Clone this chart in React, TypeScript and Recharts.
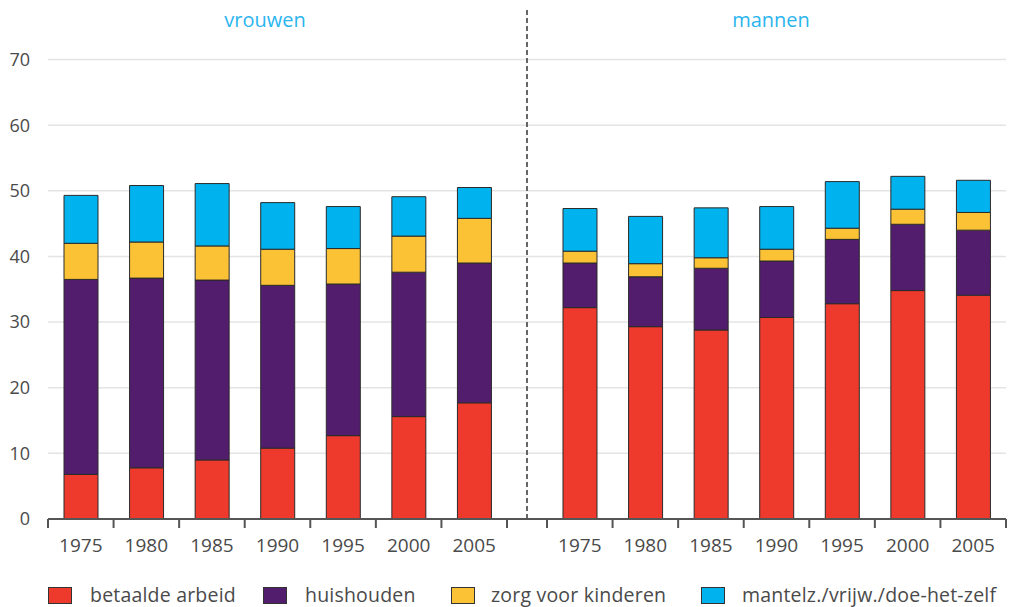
import React from 'react';
import { BarChart, Bar, XAxis, YAxis, CartesianGrid, ReferenceLine } from 'recharts';

const years = ['1975', '1980', '1985', '1990', '1995', '2000', '2005'];
const groupTitles = ['vrouwen', 'mannen'];
const seriesNames = ['betaalde arbeid', 'huishouden', 'zorg voor kinderen', 'mantelz./vrijw./doe-het-zelf'];

const vrouwenBetaald = [6.8, 7.8, 9.0, 10.8, 12.7, 15.6, 17.7];
const vrouwenHuishouden = [29.7, 28.9, 27.4, 24.8, 23.1, 22.0, 21.3];
const vrouwenZorg = [5.5, 5.5, 5.2, 5.5, 5.4, 5.5, 6.8];
const vrouwenMantelz = [7.3, 8.6, 9.5, 7.1, 6.4, 6.0, 4.7];

const mannenBetaald = [32.2, 29.3, 28.8, 30.7, 32.8, 34.8, 34.1];
const mannenHuishouden = [6.8, 7.6, 9.4, 8.6, 9.8, 10.1, 9.9];
const mannenZorg = [1.8, 2.0, 1.6, 1.8, 1.7, 2.3, 2.7];
const mannenMantelz = [6.5, 7.2, 7.6, 6.5, 7.1, 5.0, 4.9];

const yTicks = [0, 10, 20, 30, 40, 50, 60, 70];
const gridValues = [10, 20, 30, 40, 50, 60, 70];

const COLORS = ['#ee3a2c', '#531d6e', '#fcc236', '#00b3ee'];
const KEYS = ['betaald', 'huishouden', 'zorg', 'mantelz'];

const GAP = 0.61;
const N = years.length;
const MEN_OFFSET = N + GAP;
const TOTAL = 2 * N + GAP;

const data = [
  ...years.map((y, i) => ({
    x: i + 0.5,
    year: y,
    betaald: vrouwenBetaald[i],
    huishouden: vrouwenHuishouden[i],
    zorg: vrouwenZorg[i],
    mantelz: vrouwenMantelz[i],
  })),
  ...years.map((y, i) => ({
    x: MEN_OFFSET + i + 0.5,
    year: y,
    betaald: mannenBetaald[i],
    huishouden: mannenHuishouden[i],
    zorg: mannenZorg[i],
    mantelz: mannenMantelz[i],
  })),
];

const boundaries: number[] = [];
for (let i = 0; i <= N; i++) boundaries.push(i);
for (let i = 0; i <= N; i++) boundaries.push(MEN_OFFSET + i);
const labelMap = new Map<string, string>();
data.forEach((d) => labelMap.set(d.x.toFixed(3), d.year));
const allTicks = [...boundaries, ...data.map((d) => d.x)].sort((a, b) => a - b);

const FONT = "'Open Sans', sans-serif";
const TEXT = '#4a4a4a';

const XTick = (props: any) => {
  const { x, y, payload } = props;
  const key = Number(payload.value).toFixed(3);
  const label = labelMap.get(key);
  if (label) {
    return (
      <text x={x} y={y + 33} textAnchor="middle" fill={TEXT} fontSize={19} fontFamily={FONT}>
        {label}
      </text>
    );
  }
  return <line x1={x} y1={y} x2={x} y2={y + 9} stroke="#555" strokeWidth={2} />;
};

export default function App() {
  return (
    <div style={{ position: 'absolute', left: 0, top: 0, width: 1012, height: 607, background: '#fff', fontFamily: FONT }}>
      <div style={{ position: 'absolute', left: 165, top: 6, width: 200, textAlign: 'center', color: '#2bb5ef', fontSize: 20, lineHeight: '28px' }}>
        {groupTitles[0]}
      </div>
      <div style={{ position: 'absolute', left: 671, top: 6, width: 200, textAlign: 'center', color: '#2bb5ef', fontSize: 20, lineHeight: '28px' }}>
        {groupTitles[1]}
      </div>
      <div style={{ position: 'absolute', left: 0, top: 0 }}>
        <BarChart width={1012} height={560} data={data} margin={{ top: 7, right: 6, bottom: 0, left: 0 }}>
          <CartesianGrid vertical={false} horizontalValues={gridValues} stroke="#e4e4e4" strokeWidth={1.5} />
          <XAxis
            type="number"
            dataKey="x"
            domain={[0, TOTAL]}
            ticks={allTicks}
            interval={0}
            allowDataOverflow
            tickLine={false}
            tickSize={0}
            tickMargin={0}
            height={41}
            axisLine={{ stroke: '#555', strokeWidth: 2 }}
            tick={<XTick />}
          />
          <YAxis
            type="number"
            domain={[0, 78]}
            ticks={yTicks}
            interval={0}
            allowDataOverflow
            axisLine={false}
            tickLine={false}
            tickSize={0}
            tickMargin={18}
            width={48}
            tick={{ fill: TEXT, fontSize: 18, fontFamily: FONT }}
          />
          <ReferenceLine x={N + GAP / 2} stroke="#666" strokeWidth={2} strokeDasharray="5 3" />
          {KEYS.map((k, i) => (
            <Bar
              key={k}
              dataKey={k}
              name={seriesNames[i]}
              stackId="a"
              fill={COLORS[i]}
              stroke="#2a2a2a"
              strokeWidth={1}
              barSize={34}
              isAnimationActive={false}
            />
          ))}
        </BarChart>
      </div>
      {[
        { sq: 48, tx: 90 },
        { sq: 263, tx: 305 },
        { sq: 451, tx: 491 },
        { sq: 701, tx: 742 },
      ].map((p, i) => (
        <React.Fragment key={i}>
          <div
            style={{
              position: 'absolute',
              left: p.sq,
              top: 587,
              width: 22,
              height: 15,
              background: COLORS[i],
              border: '1.5px solid #333',
            }}
          />
          <div style={{ position: 'absolute', left: p.tx, top: 581, fontSize: 19.5, lineHeight: '28px', color: TEXT, whiteSpace: 'nowrap', letterSpacing: 0.2 }}>
            {seriesNames[i]}
          </div>
        </React.Fragment>
      ))}
    </div>
  );
}
